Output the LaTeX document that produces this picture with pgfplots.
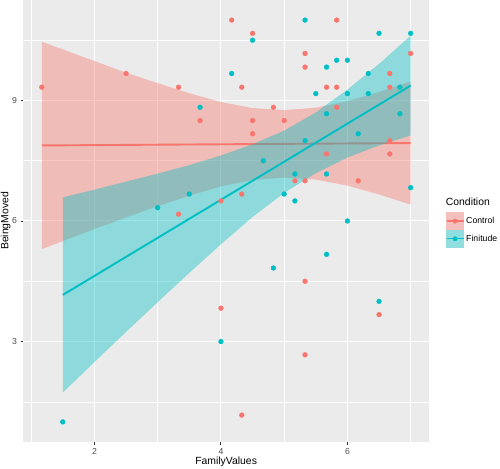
\documentclass[border=0pt]{standalone}
\usepackage{fontspec}
\setmainfont{Liberation Sans}
\usepackage{pgfplots}
\pgfplotsset{compat=1.18}
\definecolor{ctrl}{HTML}{F8766D}
\definecolor{fin}{HTML}{00BFC4}
\definecolor{panelbg}{HTML}{EBEBEB}
\definecolor{ticklab}{HTML}{4D4D4D}
\definecolor{tickc}{HTML}{333333}
\definecolor{ctrlkey}{RGB}{244,192,189}
\definecolor{finkey}{RGB}{145,222,224}

\pgfplotstableread{
x y
1.167 9.33
2.5 9.67
3.33 9.33
3.67 8.5
4.17 11
4.33 9.33
4.5 10.67
4.5 8.5
4.5 8.17
4.83 8.83
5.0 8.5
5.33 10.17
5.33 9.83
5.33 7.0
5.33 4.5
5.33 2.67
5.67 9.33
5.83 9.33
5.83 11
6.17 7.0
6.67 8.0
6.67 7.67
7.0 10.17
4.0 3.83
4.33 1.17
6.5 3.67
3.33 6.17
4.0 6.5
4.33 6.67
5.17 7.0
5.67 7.67
5.83 8.83
6.67 9.67
6.67 9.33
}\ctrldata

\pgfplotstableread{
x y
1.5 1.0
3.0 6.33
3.5 6.67
3.67 8.83
4.0 3.0
4.17 9.67
4.5 10.5
4.67 7.5
4.83 4.83
5.0 6.67
5.17 6.5
5.17 7.17
5.33 11
5.33 8.0
5.5 9.17
5.67 9.83
5.67 8.67
5.67 7.17
5.67 5.17
5.83 10
6.0 10
6.0 9.17
6.0 6.0
6.17 8.17
6.33 9.67
6.33 9.17
6.5 10.67
6.5 4.0
6.83 9.33
6.83 8.67
7.0 10.67
7.0 6.83
}\findata

\begin{document}
\begin{tikzpicture}[x=1pt,y=1pt]
\path[use as bounding box] (-23.3,-26) rectangle (476.7,442);
\begin{axis}[
  at={(0,0)}, anchor=south west, scale only axis,
  width=405.7pt, height=442pt,
  xmin=0.875, xmax=7.29, ymin=0.5, ymax=11.5,
  axis background/.style={fill=panelbg},
  axis line style={draw=none},
  xtick={2,4,6}, ytick={3,6,9},
  minor xtick={1,3,5,7}, minor ytick={1.5,4.5,7.5,10.5},
  grid=both,
  major grid style={white, line width=1.0pt},
  minor grid style={white, line width=0.5pt},
  tick align=outside, major tick length=2.7pt, minor tick length=0pt,
  tick style={tickc, line width=0.9pt},
  xtick pos=left, ytick pos=left,
  ticklabel style={font=\fontsize{8.7}{10}\selectfont, text=ticklab},
  /pgf/number format/assume math mode=true,
  xlabel={FamilyValues}, ylabel={BeingMoved},
  label style={font=\fontsize{10.4}{12}\selectfont},
  xlabel style={at={(axis description cs:0.5,0)}, anchor=center, yshift=-20pt},
  ylabel style={at={(axis description cs:0,0.5)}, anchor=center, yshift=17.5pt},
  legend style={at={(axis description cs:1.041,0.520)}, anchor=north west,
    draw=none, fill=none, font=\fontsize{8.7}{10}\selectfont,
    row sep=0pt, inner sep=0pt},
  legend cell align=left,
]
\addplot[only marks, mark=*, mark size=2.4pt, color=ctrl, forget plot] table[x=x,y=y] {\ctrldata};
\addplot[only marks, mark=*, mark size=2.4pt, color=fin, forget plot] table[x=x,y=y] {\findata};

% Control ribbon and line
\addplot[draw=none, fill=ctrl, fill opacity=0.4, forget plot] coordinates {
(1.167,10.46) (1.5,10.27) (2,9.98) (2.5,9.69) (3,9.43) (3.5,9.18) (4,8.96) (4.5,8.81) (5,8.76) (5.5,8.82) (6,8.98) (6.5,9.21) (7,9.47)
(7,6.41) (6.5,6.66) (6,6.88) (5.5,7.03) (5,7.08) (4.5,7.02) (4,6.86) (3.5,6.63) (3,6.37) (2.5,6.09) (2,5.80) (1.5,5.50) (1.167,5.30)
} -- cycle;
\addplot[ctrl, line width=1.9pt, forget plot] coordinates {(1.167,7.88) (7,7.94)};

% Finitude ribbon and line
\addplot[draw=none, fill=fin, fill opacity=0.4, forget plot] coordinates {
(1.5,6.59) (2,6.78) (2.5,6.98) (3,7.18) (3.5,7.39) (4,7.63) (4.5,7.91) (5,8.25) (5.5,8.70) (6,9.27) (6.5,9.91) (7,10.61)
(7,8.13) (6.5,7.88) (6,7.58) (5.5,7.19) (5,6.70) (4.5,6.10) (4,5.42) (3.5,4.71) (3,3.98) (2.5,3.24) (2,2.49) (1.5,1.73)
} -- cycle;
\addplot[fin, line width=1.9pt, forget plot] coordinates {(1.5,4.16) (7,9.37)};

\addlegendimage{legend image code/.code={
  \fill[ctrlkey] (0pt,-8.6pt) rectangle (17pt,8.6pt);
  \draw[ctrl, line width=1.4pt] (0pt,0pt) -- (17pt,0pt);
  \fill[ctrl] (8.5pt,0pt) circle (2.2pt);}}
\addlegendentry{Control}
\addlegendimage{legend image code/.code={
  \fill[finkey] (0pt,-8.6pt) rectangle (17pt,8.6pt);
  \draw[fin, line width=1.4pt] (0pt,0pt) -- (17pt,0pt);
  \fill[fin] (8.5pt,0pt) circle (2.2pt);}}
\addlegendentry{Finitude}
\end{axis}
\node[anchor=west, inner sep=0pt, font=\fontsize{10.4}{12}\selectfont] at (422.4,240.3) {Condition};
\end{tikzpicture}
\end{document}
